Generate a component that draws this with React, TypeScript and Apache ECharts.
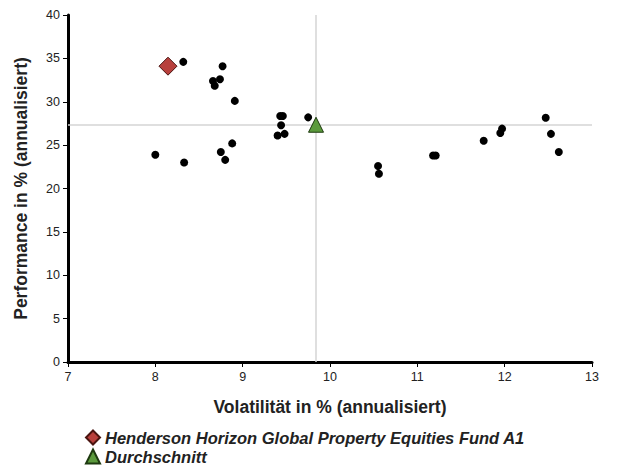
import React, { useEffect, useRef } from "react";
import * as echarts from "echarts";

const peerVolatility = [8.32, 8.0, 8.33, 8.77, 8.66, 8.74, 8.68, 8.91, 8.88, 8.75, 8.8, 9.43, 9.46, 9.44, 9.4, 9.48, 9.75, 10.55, 10.56, 11.18, 11.21, 11.76, 11.95, 11.97, 12.47, 12.53, 12.62];
const peerPerformance = [34.6, 23.9, 23.0, 34.1, 32.4, 32.6, 31.85, 30.1, 25.2, 24.2, 23.3, 28.35, 28.35, 27.3, 26.1, 26.3, 28.2, 22.6, 21.7, 23.8, 23.8, 25.5, 26.4, 26.9, 28.15, 26.3, 24.2];
const fundName = "Henderson Horizon Global Property Equities Fund A1";
const fundPoint = [8.145, 34.1];
const avgName = "Durchschnitt";
const avgPoint = [9.84, 27.35];
const xTicks = { min: 7, max: 13, interval: 1 };
const yTicks = { min: 0, max: 40, interval: 5 };

export default function App() {
  const ref = useRef<HTMLDivElement>(null);
  useEffect(() => {
    const chart = echarts.init(ref.current!, null, { renderer: "svg" });
    const font = "'Liberation Sans', Arial, sans-serif";
    const axisCommon = {
      splitLine: { show: false },
      axisLine: { show: true, onZero: false, lineStyle: { color: "#000", width: 3 } },
      axisTick: { show: true, inside: false, length: 5, lineStyle: { color: "#000", width: 1 } },
      axisLabel: { color: "#222", fontSize: 12.5, fontFamily: font },
      nameLocation: "middle" as const,
      nameTextStyle: { color: "#222", fontSize: 17.5, fontWeight: "bold" as const, fontFamily: font },
    };
    const legendText = { color: "#222", fontSize: 16.5, fontStyle: "italic" as const, fontWeight: "bold" as const, fontFamily: font };
    chart.setOption({
      animation: false,
      textStyle: { fontFamily: font },
      grid: { left: 68, right: 25, top: 15, bottom: 104, containLabel: false, outerBoundsMode: "none" },
      xAxis: {
        type: "value",
        ...xTicks,
        ...axisCommon,
        axisLabel: { ...axisCommon.axisLabel, margin: 8 },
        name: "Volatilität in % (annualisiert)",
        nameGap: 36,
      },
      yAxis: {
        type: "value",
        ...yTicks,
        ...axisCommon,
        axisLabel: { ...axisCommon.axisLabel, margin: 8 },
        name: "Performance in % (annualisiert)",
        nameGap: 38,
      },
      legend: [
        {
          left: 80,
          top: 424,
          itemWidth: 14,
          itemHeight: 14,
          itemGap: 8,
          data: [fundName],
          textStyle: legendText,
        },
        {
          left: 80,
          top: 443,
          itemWidth: 14,
          itemHeight: 14,
          itemGap: 8,
          data: [avgName],
          textStyle: legendText,
        },
      ],
      series: [
        {
          type: "scatter",
          name: "peers",
          data: peerVolatility.map((v, i) => [v, peerPerformance[i]]),
          symbol: "circle",
          symbolSize: 8,
          itemStyle: { color: "#000", opacity: 1 },
          z: 3,
        },
        {
          type: "scatter",
          name: avgName,
          data: [avgPoint],
          symbol: "triangle",
          symbolSize: 15,
          itemStyle: { color: "#5b9a3c", borderColor: "#1e3a10", borderWidth: 1, opacity: 1 },
          z: 4,
          markLine: {
            silent: true,
            symbol: "none",
            label: { show: false },
            lineStyle: { color: "#d4d4d4", width: 1.5, type: "solid" },
            data: [{ xAxis: avgPoint[0] }, { yAxis: avgPoint[1] }],
            z: 1,
          },
        },
        {
          type: "scatter",
          name: fundName,
          data: [fundPoint],
          symbol: "diamond",
          symbolSize: 18,
          itemStyle: { color: "#b8403c", borderColor: "#4a1410", borderWidth: 1, opacity: 1 },
          z: 5,
        },
      ],
    });
    return () => chart.dispose();
  }, []);
  return <div ref={ref} style={{ width: 617, height: 466, position: "absolute", left: 0, top: 0 }} />;
}
